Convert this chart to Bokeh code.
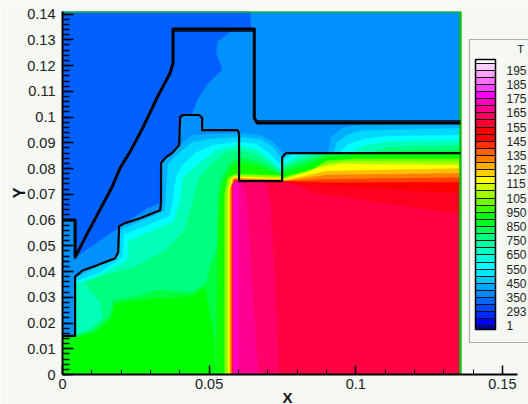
from bokeh.plotting import figure
from bokeh.embed import file_html
from bokeh.resources import INLINE
from bokeh.models import (ColorBar, LinearColorMapper, FixedTicker, BoxAnnotation, Label, Title,
                          PolyAnnotation, ColumnDataSource)

# ---- axis ticks
y_ticks = [0, .01, .02, .03, .04, .05, .06, .07, .08, .09, .1, .11, .12, .13, .14]
y_labels = ["0", "0.01", "0.02", "0.03", "0.04", "0.05", "0.06", "0.07", "0.08", "0.09", "0.1", "0.11", "0.12", "0.13", "0.14"]
x_ticks = [0, .05, .1, .15]
x_labels = ["0", "0.05", "0.1", "0.15"]

# ---- domain extents
x_end = .1357
y_end = .141
x_axis_end = .155
x_view_end = .1589

# ---- outlines
outer_x = [0, .0043, .0043, .0087, .0118, .0145, .0169, .0196, .0234, .0275, .0322, .0367, .0377, .0377, .0654, .0654, .0664, x_end]
outer_y = [.06, .06, .0455, .0553, .0619, .0677, .0728, .0801, .0872, .0961, .1074, .1171, .121, .1342, .1342, .0996, .0977, .0977]
outer2_x = [.0377, .0654]
outer2_y = [.1334, .1334]
outer3_x = [.0664, x_end]
outer3_y = [.0985, .0985]
inner_x = [0, .0043, .0043, .007, .0118, .0179, .019, .0193, .0213, .0265, .0333, .0336, .0336, .0353, .0374, .0398, .0401, .0411, .0466, .0476, .0476, .0596, .0602, .0602, .0749, .0749, .0763, x_end]
inner_y = [.015, .015, .038, .0405, .0424, .0451, .0475, .0576, .0588, .0607, .0638, .0669, .0821, .0844, .086, .0891, .1, .1008, .1008, .0996, .0949, .0949, .0938, .0751, .0751, .0844, .086, .086]

# ---- temperature bands, coolest first
base_x = [0, x_end, x_end, 0]
base_y = [0, 0, y_end, y_end]
cold_x = [0, .064, .0642, .0572, .0527, .0524, .0544, .0496, .0459, .0442, .0411, .0401, .0398, .0374, .0353, .0336, .0336, .0288, .0138, .0043, .0043, 0]
cold_y = [y_end, y_end, .1342, .1331, .1292, .1249, .1183, .1132, .1066, .1016, .1008, .1, .0891, .086, .0844, .0821, .0669, .0646, .0529, .0455, .06, .06]

l1_x = [.0043, .0043, .007, .0118, .0179, .019, .0193, .0213, .0265, .0333, .0336, .0336, .0353, .0374, .0398, .0445, .0602, .0674, .0718, .0749, .0749, .0043]
l1_y = [0, .038, .0405, .0424, .0451, .0475, .0576, .0588, .0607, .0638, .0669, .0821, .0844, .086, .0891, .093, .0938, .093, .0905, .0865, 0, 0]
l2_x = [.0043, .0043, .019, .0198, .027, .035, .036, .040, .0445, .0527, .0599, .0674, .0718, .0749, .0749]
l2_y = [0, .0372, .0465, .056, .0597, .0635, .082, .0864, .0903, .0918, .0922, .0915, .0885, .0835, 0]
l3_x = [.0043, .0043, .0125, .0205, .021, .029, .0365, .0377, .0387, .0408, .0452, .0514, .0599, .066, .0705, .0749, .0749]
l3_y = [0, .036, .0395, .0455, .0545, .058, .0615, .0677, .0767, .0813, .086, .0891, .0903, .0895, .086, .081, 0]
l4_x = [.0043, .0043, .0125, .022, .0225, .03, .038, .0401, .0411, .0459, .0527, .0599, .066, .07, .0749, .0749]
l4_y = [0, .035, .0385, .0445, .052, .0555, .0595, .0677, .0767, .0813, .0872, .0891, .0875, .084, .0795, 0]
l5_x = [.0043, .0043, .0087, .0135, .0128, .0094, .0077, .0152, .0241, .0309, .0357, .0415, .0445, .0462, .0503, .0555, .0599, .066, .07, .0749, .0749]
l5_y = [0, .0156, .0171, .0214, .028, .0327, .0358, .0389, .0416, .0455, .0486, .056, .0677, .0755, .0813, .086, .0872, .0855, .0825, .0785, 0]
l6_x = [.0043, .0043, .0105, .0162, .0173, .0265, .0322, .0445, .0492, .0503, .0527, .0537, .0527, .0537, .0571, .0599, .066, .07, .0749, .0749]
l6_y = [0, .0148, .0171, .023, .0288, .0307, .0327, .0319, .0358, .0424, .0486, .0566, .0665, .0755, .0821, .0844, .083, .081, .0775, 0]
l7_x = [0, 0, .0043, .0105, .0165, .0178, .0265, .0445, .0485, .0495, .052, .052]
l7_y = [0, .0145, .0145, .016, .0215, .0275, .029, .0305, .034, .028, .012, 0]
wall0_x = [.0525, .053, .0545, .0575, .0602, .066, .07, .0749, .0749]
wall0_y = [0, .06, .074, .0805, .0822, .0812, .0795, .0775, 0]
wall1_x = [.0553, .0553, .0565, .059, .0749, .0749]
wall1_y = [0, .07, .0765, .0778, .0772, 0]
wall2_x = [.0565, .0565, .0578, .059, .0749, .0749]
wall2_y = [0, .072, .0765, .077, .0763, 0]
wall3_x = [.0571, .0571, .0582, .0749, .0749]
wall3_y = [0, .072, .0762, .0757, 0]
wall4_x = [.0577, .0577, .0587, .0749, .0749]
wall4_y = [0, .073, .0757, .0752, 0]

r1_x = [.0749, .0749, .0763, .0905, .0915, .0951, .1, x_end, x_end]
r1_y = [.06, .0844, .086, .086, .092, .0955, .0968, .0977, .06]
r2_x = [.0749, .0749, .0763, .0925, .0935, .097, .102, x_end, x_end]
r2_y = [.06, .0844, .086, .086, .09, .093, .0948, .0957, .06]
r3_x = [.0749, .0749, .0785, .085, .0945, .0975, .103, .11, x_end, x_end]
r3_y = [.06, .083, .0855, .086, .086, .0895, .0915, .0925, .093, .06]
r4_x = [.0749, .0749, .079, .085, .098, .103, .112, x_end, x_end]
r4_y = [.06, .0815, .084, .086, .086, .089, .0905, .091, .06]
r5_x = [.0749, .0749, .08, .088, .104, .112, x_end, x_end]
r5_y = [.06, .0805, .083, .086, .086, .0885, .0891, .06]
r6_x = [.0749, .0749, .081, .09, .1, .115, x_end, x_end]
r6_y = [.06, .0795, .082, .0855, .086, .0867, .0872, .06]
r7_x = [.0749, .0749, .083, .09, .1, x_end, x_end]
r7_y = [.06, .0785, .081, .0845, .0855, .0855, .06]
r8_x = [.0749, .0749, .085, .09, .1, x_end, x_end]
r8_y = [.06, .0765, .0795, .083, .0838, .0838, .06]
r9_x = [.0749, .0749, .084, .089, .097, x_end, x_end]
r9_y = [.06, .076, .079, .0815, .0828, .0825, .06]
r10_x = [.0749, .0749, .083, .088, .095, x_end, x_end]
r10_y = [.06, .0755, .0785, .0805, .0818, .0813, .06]
r11_x = [.0749, .0749, .085, .09, x_end, x_end]
r11_y = [.06, .0752, .0777, .079, .08, .06]
r12_x = [.0749, .0749, .09, x_end, x_end]
r12_y = [.06, .0751, .0775, .0782, .06]
r13_x = [.0749, .0749, .09, x_end, x_end]
r13_y = [.06, .0751, .0758, .0765, .06]
r14_x = [.0749, .0749, .09, x_end, x_end]
r14_y = [.06, .0751, .0745, .0747, .06]
r15_x = [.0749, .0749, .0776, x_end, x_end]
r15_y = [.06, .0751, .0743, .0704, .06]

hot_x = [.0582, .0582, .0595, .0749, .08, .0855, x_end, x_end]
hot_y = [0, .0735, .0751, .0751, .0735, .0704, .0623, 0]
hot2_x = [.0582, .0582, .0595, .0691, .0708, .0733, .0735]
hot2_y = [0, .0735, .0751, .0751, .067, .02, 0]
hot3_x = [.0582, .0582, .0595, .0616, .0629, .0667]
hot3_y = [0, .0735, .0751, .0751, .067, 0]
hot4_x = [.0582, .0582, .059, .0599, .0599]
hot4_y = [0, .0735, .0748, .0748, 0]

band_colors = ["#0090ff", "#0060ff", "#00b0ff", "#00d8ff", "#00ffff", "#00ffb8", "#00ff80", "#00ff40", "#00ff00",
               "#10ff00", "#90ff00", "#ffff00", "#ff9000", "#ff2000",
               "#00b0ff", "#00d8ff", "#00ffff", "#00ffb8", "#00ff80", "#00ff40", "#00ff00", "#70ff00", "#b0ff00",
               "#ffff00", "#ffc000", "#ff8000", "#ff4000", "#ff0000", "#ff0020",
               "#ff0044", "#ff0068", "#ff0090", "#ff00c0"]
band_x = [base_x, cold_x, l1_x, l2_x, l3_x, l4_x, l5_x, l6_x, l7_x, wall0_x, wall1_x, wall2_x, wall3_x, wall4_x,
          r1_x, r2_x, r3_x, r4_x, r5_x, r6_x, r7_x, r8_x, r9_x, r10_x, r11_x, r12_x, r13_x, r14_x, r15_x,
          hot_x, hot2_x, hot3_x, hot4_x]
band_y = [base_y, cold_y, l1_y, l2_y, l3_y, l4_y, l5_y, l6_y, l7_y, wall0_y, wall1_y, wall2_y, wall3_y, wall4_y,
          r1_y, r2_y, r3_y, r4_y, r5_y, r6_y, r7_y, r8_y, r9_y, r10_y, r11_y, r12_y, r13_y, r14_y, r15_y,
          hot_y, hot2_y, hot3_y, hot4_y]

# ---- legend, from the bottom up
legend_title = "T"
legend_labels = ["1", "293", "350", "450", "550", "650", "750", "850", "950", "105", "115", "125", "135", "145", "155", "165", "175", "185", "195"]
legend_colors = ["#0000a0", "#0000ff", "#0028ff", "#0048ff", "#0068ff", "#0088ff", "#00a8ff", "#00c8ff", "#00e8ff",
                 "#00ffff", "#00ffe0", "#00ffc0", "#00ffa0", "#00ff80", "#00ff50", "#00ff20", "#00ff00", "#40ff00",
                 "#70ff00", "#a0ff00", "#d0ff00", "#ffff00", "#ffd000", "#ffb000", "#ff8000", "#ff6000", "#ff3000",
                 "#ff0000", "#ff0000", "#ff0030", "#ff0060", "#ff0090", "#ff00c0", "#ff00ff", "#ff40ff", "#ff70ff",
                 "#ffa0ff", "#ffd0ff", "#ffffff"]

BG = "#f5f8f3"
FONT = "Liberation Sans"
FRAME_L = 62      # page position of the frame's left edge
FRAME_B = 374     # page position of the frame's bottom edge

p = figure(width=528, height=404, frame_width=466, frame_height=363, output_backend="svg", toolbar_location=None,
           x_range=(0, x_view_end), y_range=(0, y_end),
           min_border_left=FRAME_L, min_border_right=0, min_border_top=11, min_border_bottom=30,
           background_fill_color=BG, border_fill_color=BG, outline_line_color=None)
p.grid.visible = False

src = ColumnDataSource(dict(xs=band_x, ys=band_y, c=band_colors))
p.patches("xs", "ys", fill_color="c", line_color="c", line_width=0.3, source=src)

p.line([0, x_end, x_end], [y_end, y_end, 0], line_color="#10c010", line_width=2.5)
p.line(outer_x, outer_y, line_color="black", line_width=3, line_join="round")
p.line(outer2_x, outer2_y, line_color="black", line_width=1.2)
p.line(outer3_x, outer3_y, line_color="black", line_width=1.2)
p.line(inner_x, inner_y, line_color="black", line_width=2.2, line_join="round")

for ax in (p.xaxis[0], p.yaxis[0]):
    ax.axis_line_color = "black"
    ax.axis_line_width = 2
    ax.major_tick_line_color = "black"
    ax.minor_tick_line_color = "black"
    ax.major_tick_out = 0
    ax.minor_tick_out = 0
    ax.major_label_text_font = FONT
    ax.major_label_text_font_size = "14.5px"
    ax.major_label_text_color = "#222222"
    ax.axis_label_text_font = FONT
    ax.axis_label_text_font_style = "bold"
    ax.axis_label_text_font_size = "16px"
    ax.axis_label_text_color = "#111111"

yax = p.yaxis[0]
yax.ticker = FixedTicker(ticks=y_ticks, minor_ticks=[i * .002 for i in range(71)])
yax.major_label_overrides = dict(zip(y_ticks, y_labels))
yax.major_tick_in = 11
yax.minor_tick_in = 7
yax.major_tick_line_width = 1.5
yax.minor_tick_line_width = 1.5
yax.major_label_standoff = 7
yax.axis_label = "Y"
yax.axis_label_standoff = -4

xax = p.xaxis[0]
xax.ticker = FixedTicker(ticks=x_ticks, minor_ticks=[i * .01 for i in range(16)])
xax.major_label_overrides = dict(zip(x_ticks, x_labels))
xax.major_tick_in = 9
xax.minor_tick_in = 5
xax.major_tick_line_width = 1.5
xax.minor_tick_line_width = 1
xax.major_label_standoff = 4
xax.bounds = (0, x_axis_end)
xax.axis_label = None

p.add_layout(Title(text="X", align="left", offset=220, standoff=-10, text_font=FONT, text_font_style="bold",
                   text_font_size="15px", text_color="#111111"), "below")

# legend frame
p.add_layout(BoxAnnotation(left=469 - FRAME_L, right=540 - FRAME_L, top=FRAME_B - 39, bottom=FRAME_B - 342,
                           left_units="screen", right_units="screen",
                           top_units="screen", bottom_units="screen", fill_color=BG, fill_alpha=1,
                           line_color="black", line_width=1.2, level="annotation"))
half = [legend_colors[0]] + [c for c in legend_colors[1:-1] for _ in (0, 1)] + [legend_colors[-1]]
mapper = LinearColorMapper(palette=half, low=-.5, high=37.5)
ticks = [i * 2 for i in range(19)]
cb = ColorBar(color_mapper=mapper, width=20, height=270, location=(413, 45), padding=0,
              ticker=FixedTicker(ticks=ticks, minor_ticks=[i * 2 + 1 for i in range(19)]),
              major_label_overrides=dict(zip(ticks, legend_labels)),
              major_tick_in=20, major_tick_out=0, minor_tick_in=20, minor_tick_out=0,
              major_tick_line_color="#111111", minor_tick_line_color="#111111",
              major_tick_line_width=1, minor_tick_line_width=1,
              bar_line_color="black", bar_line_width=1.5,
              major_label_text_font=FONT, major_label_text_font_size="12px",
              major_label_text_color="#222222", label_standoff=11,
              background_fill_color=None, border_line_color=None)
p.add_layout(cb)
p.add_layout(Label(x=520 - FRAME_L, y=FRAME_B - 48, x_units="screen", y_units="screen", text=legend_title, text_align="center",
                   text_baseline="middle", text_font=FONT, text_font_size="11px", text_color="#222222"))

# stray dark arc on the left edge of the picture
p.add_layout(PolyAnnotation(xs=[-FRAME_L + d for d in (0, 2.5, 3, 2, 0)], ys=[FRAME_B - d for d in (134, 142, 150, 156, 162)],
                            xs_units="screen", ys_units="screen",
                            fill_color="#4a2c1a", fill_alpha=1, line_color="#4a2c1a", line_alpha=0.6))

open("out.html", "w").write(file_html(p, INLINE))
